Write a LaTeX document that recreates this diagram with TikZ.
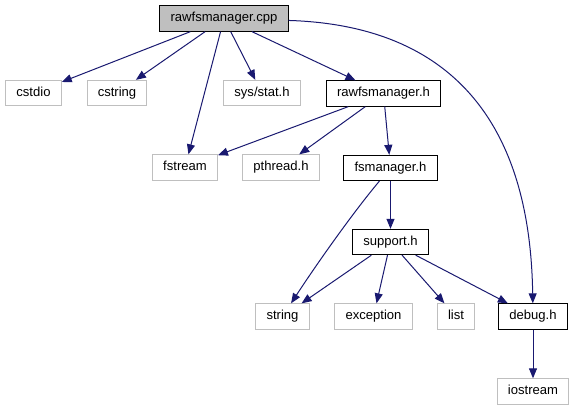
\documentclass[tikz,border=0pt]{standalone}
\usepackage{fontspec}
\setmainfont{Liberation Sans}
\usepackage{xcolor}
\usepackage{tikz}
\usetikzlibrary{arrows.meta}
\definecolor{edgeblue}{HTML}{191970}
\definecolor{extgray}{HTML}{BFBFBF}
\tikzset{
  >={Triangle[length=7.5pt,width=6pt]},
  file/.style={draw, line width=0.75pt, inner xsep=8pt, inner ysep=0pt, minimum height=19pt,
    text height=7pt, text depth=2pt, font=\fontsize{9.8pt}{12pt}\selectfont},
  hdr/.style={file, draw=black},
  ext/.style={file, draw=extgray},
  top/.style={file, draw=black, fill=extgray},
  dep/.style={->, draw=edgeblue, line width=0.75pt},
}
\begin{document}
\begin{tikzpicture}[x=0.75pt, y=-0.75pt]
  \useasboundingbox (0,0) rectangle (575,411);
  \node[top] (cpp) at (224,18.5) {rawfsmanager.cpp};
  \node[ext] (cstdio) at (33.5,93) {cstdio};
  \node[ext] (cstring) at (117,93) {cstring};
  \node[ext] (sysstat) at (262,93) {sys/stat.h};
  \node[hdr] (rawfsh) at (383.5,93.5) {rawfsmanager.h};
  \node[ext] (fstream) at (185,167.5) {fstream};
  \node[ext] (pthread) at (281,167.5) {pthread.h};
  \node[hdr] (fsmh) at (390.5,168) {fsmanager.h};
  \node[hdr] (supporth) at (390.5,242) {support.h};
  \node[ext] (string) at (282.5,316.5) {string};
  \node[ext] (exception) at (373.5,316.5) {exception};
  \node[ext] (list) at (456,316.5) {list};
  \node[hdr] (debugh) at (533,316.5) {debug.h};
  \node[ext] (iostream) at (533,391.5) {iostream};
  \draw[dep] (cpp) -- (cstdio);
  \draw[dep] (cpp) -- (cstring);
  \draw[dep] (cpp) -- (fstream);
  \draw[dep] (cpp) -- (sysstat);
  \draw[dep] (cpp) -- (rawfsh);
  \draw[dep] (cpp) .. controls (440,25) and (530,110) .. (debugh);
  \draw[dep] (rawfsh) -- (fstream);
  \draw[dep] (rawfsh) -- (pthread);
  \draw[dep] (rawfsh) -- (fsmh);
  \draw[dep] (fsmh) -- (supporth);
  \draw[dep] (fsmh) .. controls (355,210) and (318,262) .. (string);
  \draw[dep] (supporth) -- (string);
  \draw[dep] (supporth) -- (exception);
  \draw[dep] (supporth) -- (list);
  \draw[dep] (supporth) -- (debugh);
  \draw[dep] (debugh) -- (iostream);
\end{tikzpicture}
\end{document}
